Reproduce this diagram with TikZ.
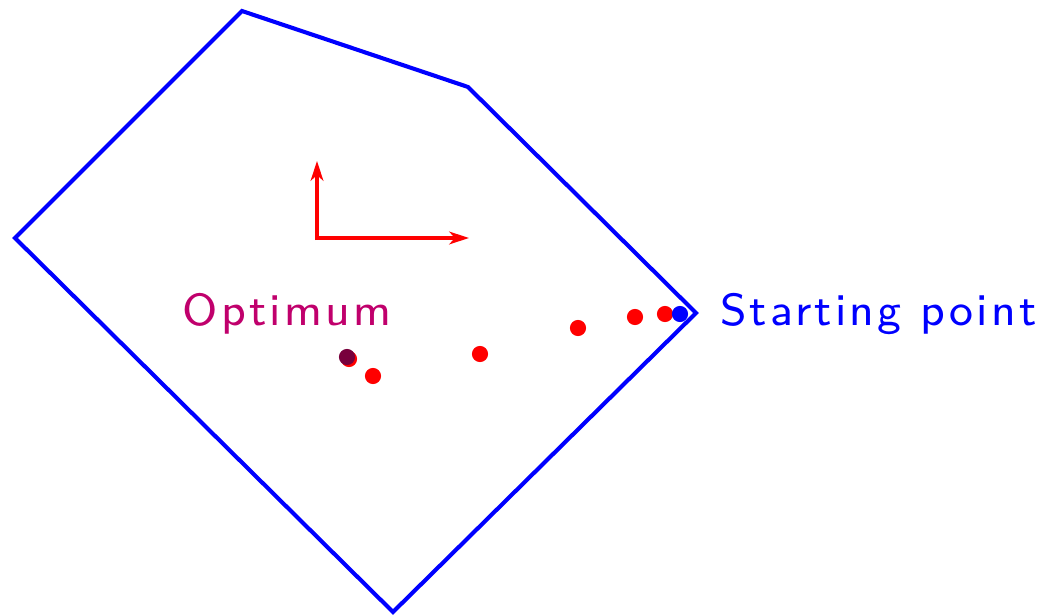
\documentclass[tikz,border=0pt]{standalone}
\usepackage{fontspec}
\usetikzlibrary{arrows.meta}
\newfontfamily\labelfont[LetterSpace=7.0]{lmsans8-regular.otf}
\definecolor{optcol}{RGB}{192,0,108}
\definecolor{optdot}{RGB}{120,0,60}
\tikzset{
  region/.style={draw=blue, line width=2.9pt, line join=miter},
  dir/.style={draw=red, line width=2.9pt, -{Stealth[length=14pt,width=9pt,inset=4pt]}},
  iter/.style={circle, fill=red, inner sep=0pt, minimum size=11.5pt},
  label/.style={font=\labelfont\fontsize{32}{38}\selectfont, inner sep=0pt}
}
\begin{document}
\begin{tikzpicture}[x=0.025cm, y=-0.025cm]
  \useasboundingbox (0,0) rectangle (1038,615);
  % feasible region
  \coordinate (v1) at (242,11);
  \coordinate (v2) at (468,87);
  \coordinate (v3) at (696,313);
  \coordinate (v4) at (393,612);
  \coordinate (v5) at (15,238);
  \draw[region] (v1) -- (v2) -- (v3) -- (v4) -- (v5) -- cycle;
  % search directions
  \coordinate (o) at (317,238);
  \coordinate (up) at (317,161);
  \coordinate (right) at (469,238);
  \draw[dir] ([yshift=-1.45pt]o) -- (up);
  \draw[dir] (o) -- (right);
  % iterates
  \node[iter] (p1) at (665,314) {};
  \node[iter] (p2) at (635,317) {};
  \node[iter] (p3) at (578,328) {};
  \node[iter] (p4) at (480,354) {};
  \node[iter] (p5) at (373,376) {};
  \node[iter] (p6) at (349,359) {};
  \node[iter, fill=optdot] (opt) at (347,357) {};
  \node[iter, fill=blue] (start) at (680,314) {};
  % labels
  \node[label, text=blue, anchor=base west] (startlbl) at (720,326) {Starting point};
  \node[label, text=optcol, anchor=base] (optlbl) at (287,326) {Optimum};
\end{tikzpicture}
\end{document}
